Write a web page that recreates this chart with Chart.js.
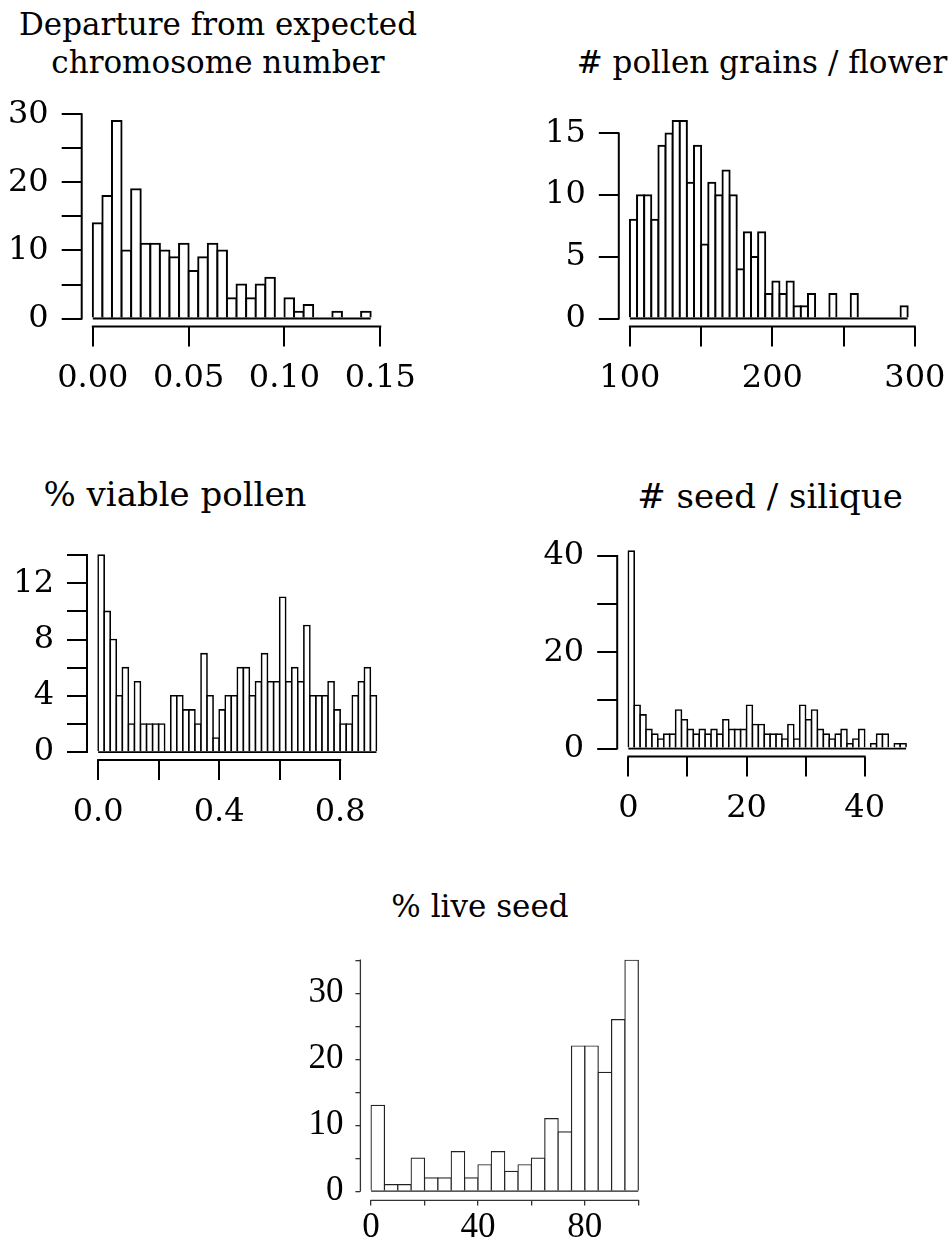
<!DOCTYPE html>
<html><head><meta charset="utf-8">
<script src="https://cdn.jsdelivr.net/npm/chart.js@4.4.0/dist/chart.umd.min.js"></script>
<style>
html,body{margin:0;padding:0;background:#fff;}
body{width:952px;height:1245px;position:relative;overflow:hidden;}
canvas{position:absolute;}
.t{position:absolute;font-family:'DejaVu Serif',serif;font-size:31px;color:#000;white-space:nowrap;transform:translate(-50%,-50%);line-height:1;}
.t.big{font-size:34px;}
</style></head><body>
<div class="t" style="left:218px;top:24px">Departure from expected</div>
<div class="t" style="left:218px;top:62px">chromosome number</div>
<div class="t" style="left:762px;top:62px"># pollen grains / flower</div>
<div class="t big" style="left:175px;top:494px">% viable pollen</div>
<div class="t big" style="left:770px;top:496px"># seed / silique</div>
<div class="t" style="left:480px;top:906px">% live seed</div>
<canvas id="c1"></canvas><canvas id="c2"></canvas><canvas id="c3"></canvas><canvas id="c4"></canvas><canvas id="c5"></canvas>
<script>
// ---------------- DATA ----------------
// Departure from expected chromosome number
const chromBinStart = 0, chromBinWidth = 0.005;
const chromCounts = [14,18,29,10,19,11,11,10,9,11,7,9,11,10,3,5,3,5,6,0,3,1,2,0,0,1,0,0,1];
const chromXTicks = [0,0.05,0.10,0.15];
const chromXTickLabels = ['0.00','0.05','0.10','0.15'];
const chromYTicks = [0,5,10,15,20,25,30];
const chromYTickLabels = ['0','','10','','20','','30'];

// # pollen grains / flower
const pollenBinStart = 100, pollenBinWidth = 5;
const pollenCounts = [8,10,10,8,14,15,16,16,11,14,6,11,10,12,10,4,7,5,7,2,3,2,3,1,1,2,0,0,2,0,0,2,0,0,0,0,0,0,1];
const pollenXTicks = [100,150,200,250,300];
const pollenXTickLabels = ['100','','200','','300'];
const pollenYTicks = [0,5,10,15];
const pollenYTickLabels = ['0','5','10','15'];

// % viable pollen
const viableBinStart = 0, viableBinWidth = 0.02;
const viableCounts = [14,10,8,4,6,2,5,2,2,2,2,0,4,4,3,3,2,7,4,1,3,4,4,6,6,4,5,7,5,5,11,5,6,5,9,4,4,4,5,3,2,2,4,5,6,4];
const viableXTicks = [0,0.2,0.4,0.6,0.8];
const viableXTickLabels = ['0.0','','0.4','','0.8'];
const viableYTicks = [0,2,4,6,8,10,12,14];
const viableYTickLabels = ['0','','4','','8','','12',''];

// # seed / silique
const seedBinStart = 0, seedBinWidth = 1;
const seedCounts = [41,9,7,4,3,2,3,3,8,6,4,3,4,3,4,3,6,4,4,4,9,5,5,3,3,3,2,5,2,9,6,8,4,3,2,3,4,1,2,4,0,1,3,3,0,1,1];
const seedXTicks = [0,10,20,30,40];
const seedXTickLabels = ['0','','20','','40'];
const seedYTicks = [0,10,20,30,40];
const seedYTickLabels = ['0','','20','','40'];

// % live seed
const liveBinStart = 0, liveBinWidth = 5;
const liveCounts = [13,1,1,5,2,2,6,2,4,6,3,4,5,11,9,22,22,18,26,35];
const liveXTicks = [0,20,40,60,80,100];
const liveXTickLabels = ['0','','40','','80',''];
const liveYTicks = [0,5,10,15,20,25,30,35];
const liveYTickLabels = ['0','','10','','20','','30',''];

// ---------------- LAYOUT (plot-region pixel boxes) ----------------
const boxes = {
  c1: {L:81.7, R:381.8, T:109.6, B:326.5},
  c2: {L:618.8, R:918.8, T:109.4, B:326.5},
  c3: {L:87.0, R:387.6, T:543.6, B:760.0},
  c4: {L:617.2, R:917.2, T:539.8, B:756.5},
  c5: {L:360.4, R:649.0, T:946.6, B:1200.4}
};

const rAxes = {
  id: 'rAxes',
  afterDatasetsDraw(chart, args, o) {
    const {ctx, scales:{x, y}} = chart;
    ctx.save();
    ctx.strokeStyle = o.barColor; ctx.lineWidth = o.barWidth; ctx.lineCap = 'butt';
    ctx.beginPath();
    const y0 = y.getPixelForValue(0);
    ctx.moveTo(x.getPixelForValue(o.lo), y0); ctx.lineTo(x.getPixelForValue(o.hi), y0);
    ctx.stroke();
    ctx.restore();
  },
  afterDraw(chart, args, o) {
    const {ctx, chartArea, scales:{x, y}} = chart;
    ctx.save();
    ctx.strokeStyle = o.color; ctx.lineWidth = o.width; ctx.lineCap = 'square';
    const xt = x.ticks, yt = y.ticks;
    ctx.beginPath();
    ctx.moveTo(x.getPixelForValue(xt[0].value), chartArea.bottom);
    ctx.lineTo(x.getPixelForValue(xt[xt.length-1].value), chartArea.bottom);
    ctx.moveTo(chartArea.left, y.getPixelForValue(yt[0].value));
    ctx.lineTo(chartArea.left, y.getPixelForValue(yt[yt.length-1].value));
    ctx.stroke();
    ctx.restore();
  }
};

function makeHist(id, p) {
  const g = boxes[id];
  const cv = document.getElementById(id);
  const left = Math.floor(g.L - 85), top = Math.floor(g.T - 28);
  const width = Math.ceil(g.R + 48) - left, height = Math.ceil(g.B + 80) - top;
  cv.style.left = left + 'px'; cv.style.top = top + 'px';
  cv.width = width; cv.height = height;
  const yW = g.L - left, padTop = g.T - top, padRight = left + width - g.R, xH = top + height - g.B;

  const n = p.counts.length;
  const lo = p.start, hi = p.start + n * p.width;
  const xpad = 0.04 * (hi - lo);
  const ymax = Math.max(...p.counts);
  const data = p.counts.map((c, i) => ({x: p.start + (i + 0.5) * p.width, y: c}));
  const font = {family: p.font, size: p.fontSize};

  new Chart(cv, {
    type: 'bar',
    data: {datasets: [{
      data,
      backgroundColor: '#ffffff',
      borderColor: p.barColor,
      borderWidth: p.bw,
      inflateAmount: p.bw / 2,
      borderSkipped: 'start',
      barPercentage: 1,
      categoryPercentage: 1
    }]},
    options: {
      responsive: false, animation: false, events: [],
      layout: {padding: {left: 0, top: padTop, right: padRight, bottom: 0}},
      plugins: {
        legend: {display: false}, tooltip: {enabled: false}, title: {display: false},
        rAxes: {color: p.axisColor, width: p.axisWidth, barColor: p.barColor, barWidth: p.bw, lo, hi}
      },
      scales: {
        x: {
          type: 'linear', offset: false,
          min: lo - xpad, max: hi + xpad,
          afterBuildTicks: s => { s.ticks = p.xTicks.map(v => ({value: v})); },
          afterFit: s => { s.height = xH; },
          ticks: {
            autoSkip: false, maxRotation: 0, minRotation: 0, color: '#000', font,
            padding: p.xPad,
            callback: (v, i) => p.xLabels[i]
          },
          grid: {offset: false, drawOnChartArea: false, drawTicks: true, tickLength: p.tickLen, color: p.axisColor, lineWidth: p.axisWidth},
          border: {display: false}
        },
        y: {
          type: 'linear',
          min: -0.04 * ymax, max: 1.04 * ymax,
          afterBuildTicks: s => { s.ticks = p.yTicks.map(v => ({value: v})); },
          afterFit: s => { s.width = yW; },
          ticks: {
            autoSkip: false, color: '#000', font,
            padding: p.yPad,
            callback: (v, i) => p.yLabels[i]
          },
          grid: {drawOnChartArea: false, drawTicks: true, tickLength: p.tickLen, color: p.axisColor, lineWidth: p.axisWidth},
          border: {display: false}
        }
      }
    },
    plugins: [rAxes]
  });
}

const std = {font: 'DejaVu Serif', fontSize: 32, tickLen: 20, xPad: 13, yPad: 13, axisColor: '#000', axisWidth: 2, barColor: '#000'};

makeHist('c1', Object.assign({}, std, {start: chromBinStart, width: chromBinWidth, counts: chromCounts,
  xTicks: chromXTicks, xLabels: chromXTickLabels, yTicks: chromYTicks, yLabels: chromYTickLabels, bw: 2}));
makeHist('c2', Object.assign({}, std, {start: pollenBinStart, width: pollenBinWidth, counts: pollenCounts,
  xTicks: pollenXTicks, xLabels: pollenXTickLabels, yTicks: pollenYTicks, yLabels: pollenYTickLabels, bw: 2}));
makeHist('c3', Object.assign({}, std, {start: viableBinStart, width: viableBinWidth, counts: viableCounts,
  xTicks: viableXTicks, xLabels: viableXTickLabels, yTicks: viableYTicks, yLabels: viableYTickLabels, bw: 1.6}));
makeHist('c4', Object.assign({}, std, {start: seedBinStart, width: seedBinWidth, counts: seedCounts,
  xTicks: seedXTicks, xLabels: seedXTickLabels, yTicks: seedYTicks, yLabels: seedYTickLabels, bw: 1.6}));
makeHist('c5', Object.assign({}, std, {start: liveBinStart, width: liveBinWidth, counts: liveCounts,
  xTicks: liveXTicks, xLabels: liveXTickLabels, yTicks: liveYTicks, yLabels: liveYTickLabels, bw: 1.2,
  font: 'Liberation Serif', fontSize: 35, tickLen: 5, xPad: 1, yPad: 12, axisColor: '#333', axisWidth: 1.3, barColor: '#222'}));
</script>
</body></html>
